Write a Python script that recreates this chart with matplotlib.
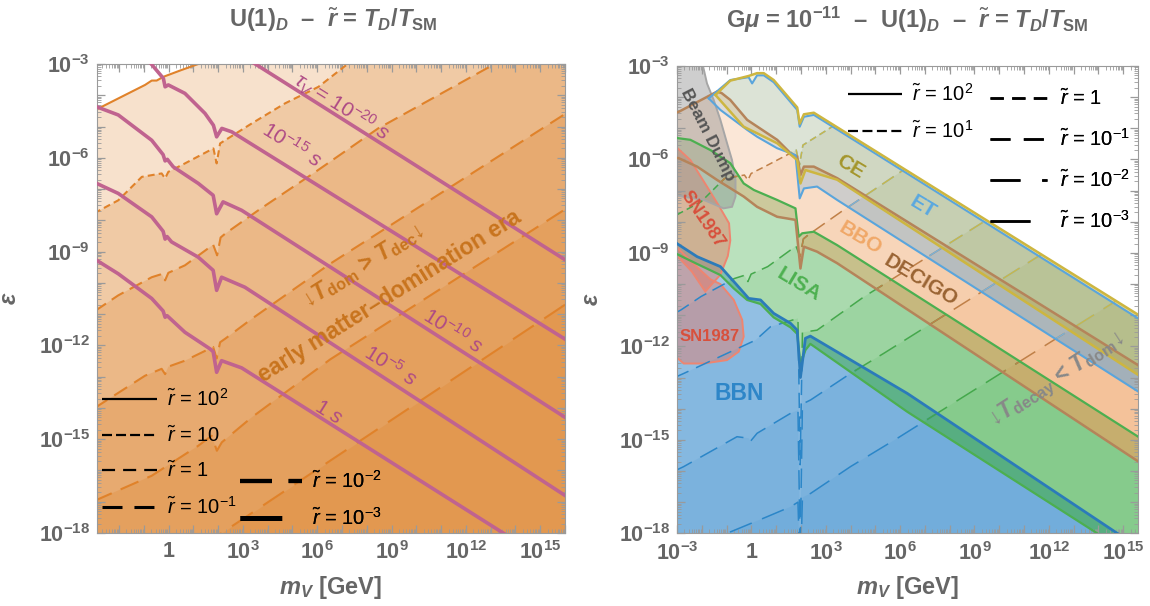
import numpy as np
import matplotlib
matplotlib.use("Agg")
import matplotlib.pyplot as plt
from matplotlib.patches import Polygon
from matplotlib.lines import Line2D
from matplotlib.ticker import FixedLocator, LogLocator, FuncFormatter, NullFormatter

plt.rcParams.update({
    "font.family": ["Liberation Sans", "DejaVu Sans"],
    "mathtext.fontset": "custom",
    "mathtext.rm": "Liberation Sans",
    "mathtext.sf": "Liberation Sans",
    "mathtext.it": "Liberation Sans:italic",
    "mathtext.bf": "Liberation Sans:bold",
    "mathtext.bfit": "Liberation Sans:bold:italic",
    "mathtext.fallback": "stixsans",
    "lines.scale_dashes": False,
})

# all curves: (log10 m_V [GeV], log10 epsilon)

# left panel: T_dom = T_dec boundaries for r~ = 1e2 ... 1e-3
dom_r100 = [(-3.0, -4.5), (-2.9, -4.45), (-0.95, -3.67), (-0.68, -3.53), (-0.48, -3.53),
            (-0.21, -3.41), (0.53, -3.19), (1.20, -3.0), (16.0, 4.4)]
dom_r10 = [(-3.0, -7.78), (-2.9, -7.73), (-2.03, -7.36), (-1.08, -6.61), (-0.28, -6.50),
           (-0.14, -6.66), (-0.01, -6.45), (0.66, -6.18), (1.81, -5.70), (1.94, -6.18),
           (2.08, -5.54), (2.28, -5.44), (3.36, -4.90), (4.70, -4.26), (6.05, -3.73),
           (7.26, -2.98), (16.0, 1.4)]
dom_r1 = [(-3.0, -10.9), (-2.84, -10.83), (-2.03, -10.4), (-0.68, -9.82), (-0.28, -9.72),
          (-0.14, -9.92), (-0.01, -9.68), (0.66, -9.44), (1.80, -8.78), (1.96, -9.12),
          (2.10, -8.55), (2.28, -8.43), (3.62, -7.68), (5.93, -6.45), (8.46, -5.06),
          (13.16, -3.0), (16.0, -1.58)]
dom_r01 = [(-3.0, -14.0), (-2.84, -13.93), (-0.95, -12.97), (-0.28, -12.75), (-0.14, -12.92),
           (-0.01, -12.68), (0.66, -12.49), (1.80, -12.05), (1.94, -12.42), (2.08, -11.9),
           (2.28, -11.79), (3.36, -11.15), (6.52, -9.39), (16.0, -4.6)]
dom_r001 = [(-3.0, -17.0), (-2.84, -16.92), (-0.68, -16.17), (1.20, -15.21), (1.74, -14.89),
            (1.95, -15.37), (2.15, -15.1), (3.36, -14.3), (6.52, -12.45), (16.0, -7.65)]
dom_r0001 = [(-3.0, -20.6), (2.15, -18.0), (6.52, -15.69), (16.0, -10.7)]

# left panel: dark photon lifetime contours
tau_20 = [(3.3, -2.9), (16.0, -9.26)]
tau_15 = [(-0.75, -2.95), (-0.21, -3.46), (-0.14, -3.73), (-0.01, -3.67), (0.66, -3.94),
          (1.47, -4.58), (1.81, -4.96), (1.94, -5.33), (2.15, -5.06), (2.55, -5.17), (16.0, -11.8)]
tau_10 = [(-3.0, -4.32), (-2.9, -4.37), (-2.03, -4.63), (-0.68, -5.44), (-0.22, -5.9),
          (-0.14, -6.1), (-0.05, -6.05), (0.19, -6.29), (1.2, -6.82), (1.8, -7.2),
          (1.94, -7.79), (2.2, -7.41), (2.95, -7.68), (16.0, -14.3)]
tau_5 = [(-3.0, -6.78), (-2.9, -6.82), (-2.03, -7.14), (-0.68, -7.89), (-0.22, -8.35),
         (-0.14, -8.6), (-0.06, -8.52), (0.12, -8.69), (1.2, -9.18), (1.8, -9.6),
         (1.94, -10.24), (2.14, -9.82), (3.08, -10.14), (16.0, -16.8)]
tau_0 = [(-3.0, -9.24), (-2.9, -9.28), (-2.03, -9.71), (-0.68, -10.5), (-0.22, -10.9),
         (-0.14, -11.1), (-0.06, -11.05), (0.66, -11.58), (1.67, -12.11), (1.8, -12.2),
         (1.94, -12.86), (2.14, -12.49), (2.95, -12.72), (16.0, -19.25)]

# right panel: T_decay = T_dom lines (r~ = 10 and 1 coincide with the left panel)
gw_r01 = [(-3.1, -13.0), (-2.73, -12.87), (0.17, -11.80), (0.77, -11.37), (1.44, -11.21),
          (1.88, -11.1), (1.97, -15.8), (2.06, -11.55), (2.65, -11.48), (4.54, -10.41), (16.0, -4.7)]
gw_r001 = [(-3.1, -16.0), (-2.73, -15.86), (-0.58, -14.9), (-0.1, -14.95), (-0.04, -15.05),
           (0.23, -14.79), (1.58, -14.15), (1.88, -14.05), (1.97, -18.6), (2.06, -13.85),
           (2.39, -13.72), (4.0, -12.87), (5.35, -12.22), (16.0, -6.9)]
gw_r0001 = [(-3.1, -19.3), (-0.98, -18.0), (0.63, -17.47), (1.58, -17.15), (1.88, -17.0),
            (1.97, -19.5), (2.06, -16.85), (2.39, -16.72), (4.0, -15.86), (5.89, -14.95), (16.0, -9.9)]

# right panel: detector reach bands (upper / lower edge)
ce_top = [(-1.45, -3.93), (-0.85, -3.47), (-0.11, -3.32), (0.23, -3.23), (0.5, -3.23), (0.9, -3.45),
          (1.85, -4.33), (1.95, -4.85), (2.12, -4.55), (2.52, -4.5), (16.0, -11.18)]
ce_bot = [(-1.45, -3.93), (-0.31, -4.95), (0.23, -5.16), (1.04, -5.48), (1.85, -6.02),
          (1.98, -6.77), (2.18, -6.34), (3.46, -6.65), (16.0, -13.12)]
et_top = [(-1.72, -4.04), (-0.85, -3.45), (-0.11, -3.36), (0.03, -3.56), (0.23, -3.3), (0.5, -3.3),
          (0.9, -3.52), (1.85, -4.41), (1.95, -4.95), (2.12, -4.63), (2.52, -4.57), (16.0, -11.3)]
et_bot = [(-1.72, -4.04), (-1.25, -4.41), (-0.17, -5.05), (0.23, -5.27), (1.04, -5.64), (1.78, -5.86),
          (1.95, -7.25), (2.12, -6.93), (2.65, -6.87), (3.46, -7.3), (16.0, -13.65)]
dec_top = [(-3.1, -4.52), (-2.93, -4.47), (-1.38, -3.82), (-1.2, -3.87), (-0.85, -4.09),
           (-0.17, -4.73), (1.04, -5.37), (1.58, -5.8), (1.85, -5.91), (1.98, -6.5), (2.12, -6.23),
           (2.52, -6.23), (3.46, -6.6), (16.0, -12.8)]
dec_bot = [(-3.1, -5.94), (-2.93, -5.96), (-2.19, -6.23), (-1.38, -6.66), (-0.31, -7.19),
           (0.23, -7.52), (1.04, -7.84), (1.78, -7.94), (1.98, -9.5), (2.12, -8.8), (2.65, -8.96),
           (3.46, -9.33), (16.0, -15.9)]
lisa_top = [(-3.1, -5.3), (-2.93, -5.32), (-2.46, -5.37), (-1.65, -5.7), (-0.85, -6.12),
            (-0.31, -6.77), (0.1, -6.98), (1.04, -7.3), (1.78, -7.57), (1.91, -8.48), (2.05, -8.37),
            (2.52, -8.32), (3.46, -8.75), (16.0, -15.1)]
lisa_bot = [(-3.1, -9.0), (-2.2, -9.35), (-1.25, -9.71), (-0.71, -10.14), (-0.17, -10.51),
            (0.37, -10.64), (0.9, -11.07), (1.58, -11.39), (1.85, -11.6), (1.98, -12.6),
            (2.18, -12.12), (2.38, -11.92), (6.29, -14.1), (13.95, -18.0), (16.0, -19.1)]
bbn_top = [(-3.1, -8.65), (-2.19, -9.12), (-1.25, -9.44), (-0.64, -9.98), (-0.11, -10.46),
           (0.37, -10.51), (0.9, -10.94), (1.58, -11.26), (1.85, -11.48), (1.98, -13.0),
           (2.18, -11.74), (2.38, -11.67), (6.29, -13.51), (14.76, -18.0), (16.0, -18.62)]
bbn_bot = [(-3.1, -30.0), (16.0, -30.0)]

beam_dump = [(-3.1, -2.9), (-1.98, -2.9), (-1.79, -3.56), (-1.52, -4.09), (-1.25, -4.73),
             (-0.98, -5.48), (-0.78, -6.02), (-0.64, -6.66), (-0.64, -7.19), (-0.78, -7.52),
             (-1.12, -7.57), (-1.92, -7.3), (-3.1, -7.15)]
sn_upper = [(-3.1, -5.55), (-2.46, -6.02), (-1.79, -6.87), (-1.3, -7.5), (-0.9, -8.05),
            (-0.85, -8.6), (-0.95, -9.1), (-1.25, -9.7), (-1.86, -10.24), (-2.4, -9.6), (-3.1, -9.0)]
sn_lower = [(-3.1, -8.75), (-2.2, -9.45), (-1.65, -9.85), (-1.25, -10.0), (-0.71, -10.51),
            (-0.37, -11.15), (-0.31, -11.69), (-0.51, -12.17), (-0.98, -12.44), (-1.92, -12.55),
            (-2.73, -12.55), (-3.1, -12.3)]


def lg(pts):
    a = np.asarray(pts, dtype=float)
    return 10.0 ** a[:, 0], 10.0 ** a[:, 1]


def dec_label(v, pos):
    e = int(round(np.log10(v)))
    if e % 3:
        return ""
    if e == 0:
        return r"$\mathbf{1}$"
    return r"$\mathbf{10^{%d}}$" % e


def style_axes(ax, xlo, xhi):
    ax.set_xscale("log")
    ax.set_yscale("log")
    ax.set_xlim(10.0 ** xlo, 10.0 ** xhi)
    ax.set_ylim(1e-18, 1e-3)
    ax.xaxis.set_major_locator(FixedLocator(10.0 ** np.arange(-3, 17)))
    ax.yaxis.set_major_locator(FixedLocator(10.0 ** np.arange(-18, -2)))
    for a in (ax.xaxis, ax.yaxis):
        a.set_minor_locator(LogLocator(base=10, subs=np.arange(2, 10), numticks=300))
        a.set_minor_formatter(NullFormatter())
        a.set_major_formatter(FuncFormatter(dec_label))
    ax.tick_params(which="both", direction="in", top=True, right=True,
                   color="#9a9a9a", labelcolor="#666666", labelsize=15.5)
    ax.tick_params(which="major", length=6, width=0.9)
    ax.tick_params(which="minor", length=3, width=0.6)
    ax.tick_params(axis="x", pad=6)
    ax.tick_params(axis="y", pad=5)
    for s in ax.spines.values():
        s.set_color("#9a9a9a")
    ax.set_xlabel(r"$\mathbfit{m}_{\mathbfit{V}}$ [GeV]", fontsize=17, color="#666666",
                  fontweight="bold")
    ax.set_ylabel("ε", fontsize=17, color="#666666", fontweight="bold", fontstyle="italic")
    ax.xaxis.set_label_coords(0.5, -0.088)
    ax.yaxis.set_label_coords(-0.162, 0.5)


def add_legend(ax, fig, entries, x_px, y_px, hl, pad, spacing):
    handles, labels = [], []
    for lab, lw, dash in entries:
        if dash is None:
            h = Line2D([], [], color="black", lw=lw, solid_capstyle="butt")
        else:
            h = Line2D([], [], color="black", lw=lw, dashes=dash, dash_capstyle="butt")
        handles.append(h)
        labels.append(lab)
    leg = ax.legend(handles, labels, loc="upper left", bbox_to_anchor=(x_px / 1150, 1 - y_px / 606),
                    bbox_transform=fig.transFigure, frameon=False, fontsize=14.5,
                    handlelength=hl, handletextpad=pad, labelspacing=spacing,
                    borderpad=0, borderaxespad=0)
    ax.add_artist(leg)
    return leg


fig = plt.figure(figsize=(11.5, 6.06), dpi=100)
axL = fig.add_axes([0.0841, 0.1205, 0.4072, 0.7739])
axR = fig.add_axes([0.5887, 0.1200, 0.4009, 0.7711])

# ---------------- left panel ----------------
dom_lines = [(dom_r100, None), (dom_r10, (5, 3)), (dom_r1, (10, 5)), (dom_r01, (11, 6)),
             (dom_r001, (14, 7)), (dom_r0001, (18, 9))]
for pts, dash in dom_lines:
    x, y = lg(pts)
    axL.fill_between(x, y, 1e-30, color="#DD7F25", alpha=0.23, lw=0, zorder=1)
for pts, dash in dom_lines:
    x, y = lg(pts)
    if dash is None:
        axL.plot(x, y, color="#E0822A", lw=1.5, zorder=2)
    else:
        axL.plot(x, y, color="#E0822A", lw=1.5, dashes=dash, zorder=2)

for pts in (tau_20, tau_15, tau_10, tau_5, tau_0):
    x, y = lg(pts)
    axL.plot(x, y, color="#C0638F", lw=2.6, zorder=3)

tau_col = "#AE4A85"
tau_kw = dict(color=tau_col, fontsize=15, rotation=-32, ha="center", va="center",
              rotation_mode="anchor", zorder=4)
axL.text(10 ** 6.99, 10 ** -4.37, r"$\tau_V$ = 10$^{-20}$ $s$", **tau_kw)
axL.text(10 ** 4.98, 10 ** -5.6, r"10$^{-15}$ $s$", **tau_kw)
axL.text(10 ** 11.5, 10 ** -11.53, r"10$^{-10}$ $s$", **tau_kw)
axL.text(10 ** 8.95, 10 ** -12.65, r"10$^{-5}$ $s$", **tau_kw)
axL.text(10 ** 6.45, 10 ** -14.14, r"1 $s$", **tau_kw)

era_col = "#C8741E"
axL.text(10 ** 7.86, 10 ** -9.44,
         r"↓$\mathbfit{T}_{\mathbf{dom}}$ > $\mathbfit{T}_{\mathbf{dec}}$↓",
         color=era_col, fontsize=16.5, fontweight="bold", rotation=32, ha="center", va="center",
         rotation_mode="anchor", zorder=4)
axL.text(10 ** 8.91, 10 ** -10.44, "early matter–domination era", color=era_col, fontsize=16.5,
         fontweight="bold", rotation=32, ha="center", va="center", rotation_mode="anchor", zorder=4)

style_axes(axL, -2.9, 16.0)

add_legend(axL, fig, [
    (r"$\tilde{r}$ = 10$^{2}$", 1.6, None),
    (r"$\tilde{r}$ = 10", 1.6, (7.2, 2.9)),
    (r"$\tilde{r}$ = 1", 1.6, (9.4, 5.8)),
    (r"$\tilde{r}$ = 10$^{-1}$", 2.2, (14.4, 8.6)),
], 101.7, 388, 2.75, 0.5, 0.74)
add_legend(axL, fig, [
    (r"$\tilde{r}$ = 10$^{-2}$", 3.0, (23, 12)),
    (r"$\tilde{r}$ = 10$^{-3}$", 3.6, (30, 20)),
], 240, 470, 3.1, 0.5, 0.74)

fig.text(333 / 1150, 1 - 20 / 606,
         r"U(1)$_{\mathbfit{D}}$  –  $\tilde{\mathbfit{r}}$ = $\mathbfit{T}_{\mathbfit{D}}$/$\mathbfit{T}_{\mathbf{SM}}$",
         ha="center", va="center", fontsize=17, color="#666666", fontweight="bold")

# ---------------- right panel ----------------
gw_lines = [(dom_r10, (5, 3)), (dom_r1, (10, 5)), (gw_r01, (11, 6)),
            (gw_r001, (14, 7)), (gw_r0001, (17, 8))]

bands = [
    # top, bottom, fill colour, base alpha, layer alpha, edge colour, edge width, dash colour
    (bbn_top, bbn_bot, "#4A97D2", 0.42, 0.17, "#2B7BBA", 2.0, "#2B86C8"),
    (lisa_top, lisa_bot, "#4DB356", 0.28, 0.14, "#4CAF50", 1.6, "#45A84C"),
    (dec_top, dec_bot, "#F0A060", 0.25, 0.13, "#B5845A", 1.8, "#C08048"),
    (et_top, et_bot, "#5DA5DA", 0.18, 0.10, "#5AA5DC", 1.5, "#7AB2D8"),
    (ce_top, ce_bot, "#C8B43C", 0.18, 0.10, "#CDB640", 1.8, "#C8B84C"),
]

patches = []
for top, bot, face, a0, a1, edge, elw, dcol in bands:
    verts = 10.0 ** np.asarray(top + bot[::-1], dtype=float)
    p = Polygon(verts, closed=True, facecolor=face, alpha=a0, edgecolor="none", zorder=1)
    axR.add_patch(p)
    patches.append(p)
    for pts, dash in gw_lines:
        x, y = lg(pts)
        fb = axR.fill_between(x, y, 1e-30, color=face, alpha=a1, lw=0, zorder=1)
        fb.set_clip_path(p)

for verts_pts, face, edge, a in ((sn_upper, "#E8705A", "#EE8570", 0.42),
                                 (sn_lower, "#E8705A", "#EE8570", 0.42),
                                 (beam_dump, "#8C8C8C", "#A6A6A6", 0.42)):
    verts = 10.0 ** np.asarray(verts_pts, dtype=float)
    axR.add_patch(Polygon(verts, closed=True, facecolor=face, alpha=a, edgecolor="none", zorder=1.5))
    axR.add_patch(Polygon(verts, closed=True, fill=False, edgecolor=edge, lw=1.4, zorder=1.6))

for (top, bot, face, a0, a1, edge, elw, dcol), p in zip(bands, patches):
    for pts, dash in gw_lines:
        x, y = lg(pts)
        ln, = axR.plot(x, y, color=dcol, lw=1.1, dashes=dash, zorder=2)
        ln.set_clip_path(p)

draw_order = [1, 0, 2, 3, 4]
for i in draw_order:
    top, bot, face, a0, a1, edge, elw, dcol = bands[i]
    x, y = lg(top)
    axR.plot(x, y, color=edge, lw=elw, zorder=3)
    if i != 0:
        x, y = lg(bot)
        axR.plot(x, y, color=edge, lw=elw, zorder=3)

lab_kw = dict(fontweight="bold", ha="center", va="center", rotation_mode="anchor", zorder=4)
axR.text(10 ** -0.48, 10 ** -13.5, "BBN", color="#2E86C8", fontsize=16.5, **lab_kw)
axR.text(10 ** -1.69, 10 ** -11.69, "SN1987", color="#D8503C", fontsize=12, **lab_kw)
axR.text(10 ** -1.96, 10 ** -7.94, "SN1987", color="#D8503C", fontsize=13, rotation=-56, **lab_kw)
axR.text(10 ** -1.76, 10 ** -5.22, "Beam Dump", color="#555555", fontsize=12.5, rotation=-63, **lab_kw)
axR.text(10 ** 1.91, 10 ** -10.03, "LISA", color="#4DB050", fontsize=15, rotation=-31, **lab_kw)
axR.text(10 ** 4.39, 10 ** -8.53, "BBO", color="#F0A868", fontsize=15, rotation=-31, **lab_kw)
axR.text(10 ** 6.85, 10 ** -9.9, "DECIGO", color="#9A6433", fontsize=15, rotation=-31, **lab_kw)
axR.text(10 ** 6.93, 10 ** -7.53, "ET", color="#5AA8E0", fontsize=15, rotation=-31, **lab_kw)
axR.text(10 ** 3.98, 10 ** -6.23, "CE", color="#A4962C", fontsize=15, rotation=-31, **lab_kw)
axR.text(10 ** 12.34, 10 ** -13.08,
         r"↓$\mathbfit{T}_{\mathbf{decay}}$ < $\mathbfit{T}_{\mathbf{dom}}$↓",
         color="#888888", fontsize=16.5, rotation=33, **lab_kw)

style_axes(axR, -3.0, 15.6)

add_legend(axR, fig, [
    (r"$\tilde{r}$ = 10$^{2}$", 1.6, None),
    (r"$\tilde{r}$ = 10$^{1}$", 1.6, (7.2, 3.2)),
], 848, 83, 2.7, 0.5, 0.76)
add_legend(axR, fig, [
    (r"$\tilde{r}$ = 1", 1.8, (9.6, 6)),
    (r"$\tilde{r}$ = 10$^{-1}$", 1.8, (14.4, 9.6)),
    (r"$\tilde{r}$ = 10$^{-2}$", 1.8, (21.6, 15.6)),
    (r"$\tilde{r}$ = 10$^{-3}$", 1.8, (28.8, 14)),
], 990, 88, 2.85, 0.65, 0.95)

fig.text(907 / 1150, 1 - 20 / 606,
         r"G$\mathbfit{\mu}$ = 10$^{\mathbf{-11}}$  –  U(1)$_{\mathbfit{D}}$  –  $\tilde{\mathbfit{r}}$ = $\mathbfit{T}_{\mathbfit{D}}$/$\mathbfit{T}_{\mathbf{SM}}$",
         ha="center", va="center", fontsize=17, color="#666666", fontweight="bold")

fig.savefig("out.png", dpi=100)
